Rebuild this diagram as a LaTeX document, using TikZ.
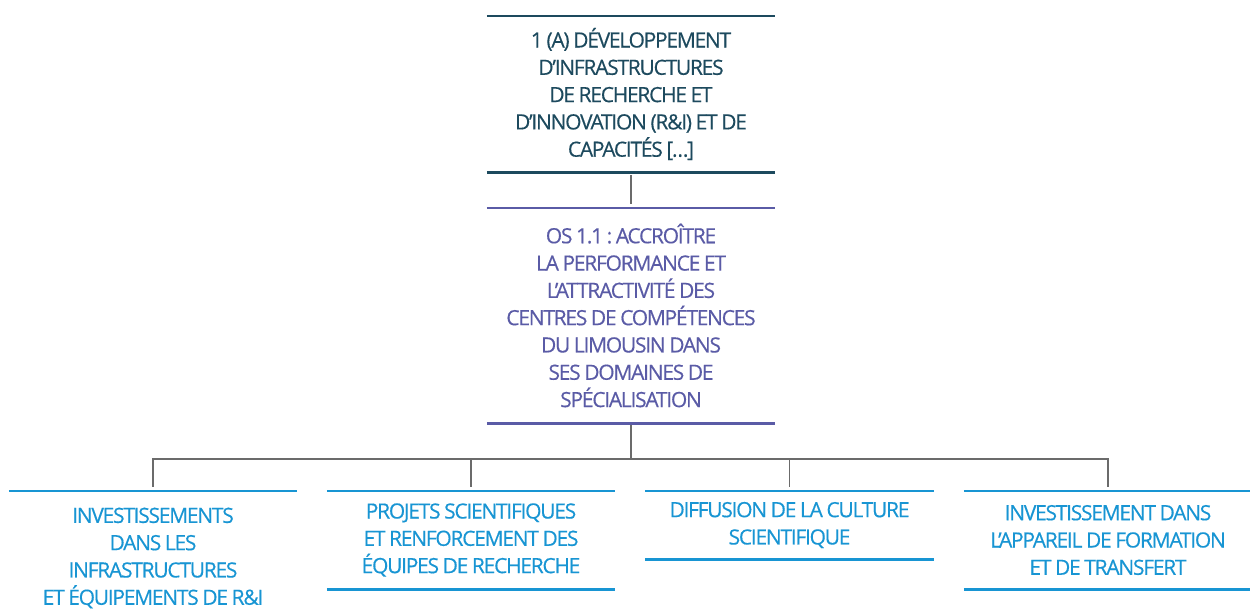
\documentclass[tikz,border=0pt]{standalone}
\usepackage{fontspec}
\setmainfont{Open Sans}[LetterSpace=-6,FakeBold=0.4]
\definecolor{axeteal}{HTML}{1D4A5E}
\definecolor{ospurple}{HTML}{5A5BA6}
\definecolor{actblue}{HTML}{1895D3}
\definecolor{linkgray}{HTML}{6B6B6B}
\newcommand\tightwords{\spaceskip=0.17em\relax\xspaceskip=0.17em\relax}
\begin{document}
\begin{tikzpicture}[x=1pt,y=-1pt,
    box/.style={inner sep=0pt,text width=288pt,align=center,
        font=\fontsize{21}{27.3}\selectfont,execute at begin node=\tightwords},
    rule/.style={line width=2.6pt},
    link/.style={draw=linkgray,line width=1.6pt}]
            \useasboundingbox (0,0) rectangle (1250,614);

            \node[box,text=axeteal,minimum height=156pt] (axe) at (631,94)
                {1 (A) DÉVELOPPEMENT\\D’INFRASTRUCTURES\\DE RECHERCHE ET\\D’INNOVATION (R\&I) ET DE\\CAPACITÉS […]};
            \node[box,text=ospurple,minimum height=215pt] (os) at (631,315.5)
                {OS 1.1 : ACCROÎTRE\\LA PERFORMANCE ET\\L’ATTRACTIVITÉ DES\\CENTRES DE COMPÉTENCES\\DU LIMOUSIN DANS\\SES DOMAINES DE\\SPÉCIALISATION};

            \node[box,text=actblue,minimum height=134pt] (infra) at (153,558)
                {INVESTISSEMENTS\\DANS LES\\INFRASTRUCTURES\\ET ÉQUIPEMENTS DE R\&I};
            \node[box,text=actblue,minimum height=98pt] (projets) at (471,540)
                {PROJETS SCIENTIFIQUES\\ET RENFORCEMENT DES\\ÉQUIPES DE RECHERCHE};
            \node[box,text=actblue,minimum height=68pt] (culture) at (789.5,525)
                {DIFFUSION DE LA CULTURE\\SCIENTIFIQUE};
            \node[box,text=actblue,minimum height=98pt] (formation) at (1108,540)
                {INVESTISSEMENT DANS\\L’APPAREIL DE FORMATION\\ET DE TRANSFERT};

            \draw[rule,axeteal] (axe.north west) -- (axe.north east) (axe.south west) -- (axe.south east);
            \draw[rule,ospurple] (os.north west) -- (os.north east) (os.south west) -- (os.south east);
            \draw[rule,actblue] (infra.north west) -- (infra.north east);
            \foreach \act in {projets,culture,formation}
                \draw[rule,actblue] (\act.north west) -- (\act.north east) (\act.south west) -- (\act.south east);

            \coordinate (bus) at (631,459);
            \path[link] (axe.south) edge[shorten <=3pt,shorten >=4pt] (os.north);
            \path[link] (os.south) edge[shorten <=2pt] (bus);
            \foreach \act in {infra,projets,culture,formation}
                \draw[link,shorten >=4pt] (bus) -| (\act.north);
\end{tikzpicture}
\end{document}
